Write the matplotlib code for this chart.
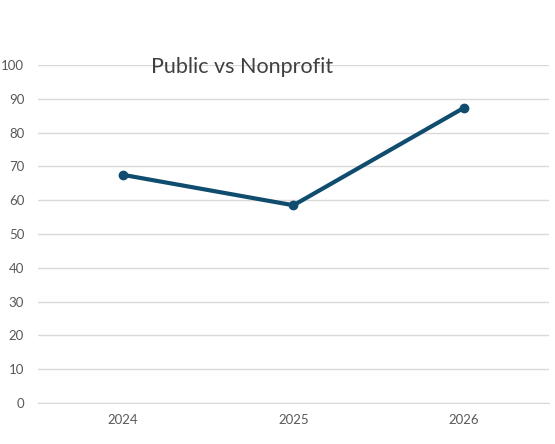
import matplotlib
matplotlib.use("Agg")
import matplotlib.pyplot as plt

years = ["2024", "2025", "2026"]
values = [67.5, 58.5, 87.3]
yticks = [0, 10, 20, 30, 40, 50, 60, 70, 80, 90, 100]

plt.rcParams['font.family'] = ['Lato', 'DejaVu Sans']
fig = plt.figure(figsize=(5.55, 4.44), dpi=100)
ax = fig.add_axes([0.0685, 0.0923, 0.9205, 0.7613])

x = range(len(years))
ax.plot(x, values, color="#0f4c6e", linewidth=3, marker="o", markersize=6)

ax.set_xlim(-0.5, len(years) - 0.5)
ax.set_ylim(0, 100)
ax.set_yticks(yticks)
ax.set_xticks(list(x))
ax.set_xticklabels(years)
ax.grid(axis="y", color="#d9d9d9", linewidth=1)
ax.set_axisbelow(True)
for s in ["top", "right", "left"]:
    ax.spines[s].set_visible(False)
ax.spines["bottom"].set_color("#d9d9d9")
ax.tick_params(length=0, colors="#595959", labelsize=9.5)
ax.tick_params(axis="y", pad=10)
ax.tick_params(axis="x", pad=8)

fig.text(0.436, 0.848, "Public vs Nonprofit", fontsize=15.5, color="#404040",
         ha="center", va="center")

fig.savefig("out.png", dpi=100)
